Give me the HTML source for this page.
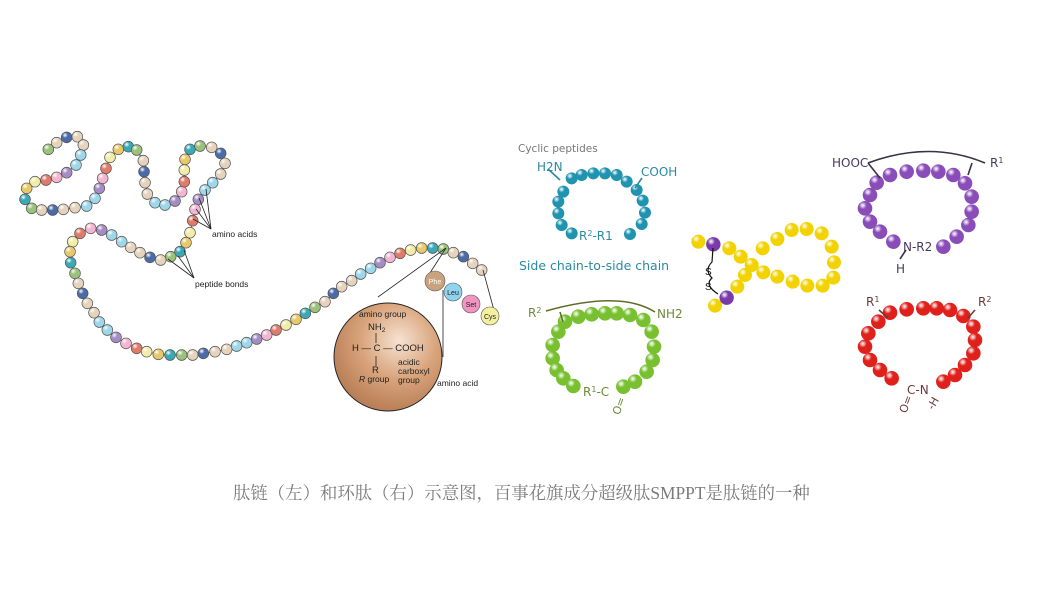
<!DOCTYPE html>
<html><head><meta charset="utf-8"><style>
html,body{margin:0;padding:0;background:#fff;width:1054px;height:591px;overflow:hidden}
svg{position:absolute;left:0;top:0}
.cap{position:absolute;left:233px;top:479px;font-family:"Liberation Serif","Noto Serif CJK SC",serif;font-size:17.4px;color:#7a7a7a;white-space:nowrap}
</style></head><body>
<svg id="s" width="1054" height="591" viewBox="0 0 1054 591" xmlns="http://www.w3.org/2000/svg" font-family="Liberation Sans, sans-serif">
<defs>
<radialGradient id="big" cx="0.6" cy="0.35" r="0.7"><stop offset="0" stop-color="#f6e3d2"/><stop offset="0.5" stop-color="#d9a47c"/><stop offset="1" stop-color="#b57a52"/></radialGradient>
</defs>
<g id="chain"></g>
<g id="rings"></g>
<g stroke="#222" stroke-width="0.8" fill="none">
<line x1="199" y1="198" x2="211" y2="229"/><line x1="206" y1="189" x2="211" y2="229"/><line x1="196" y1="209" x2="211" y2="229"/><line x1="193" y1="219" x2="211" y2="229"/>
<line x1="168" y1="259" x2="194" y2="278"/><line x1="178" y1="256" x2="194" y2="278"/><line x1="184" y1="250" x2="194" y2="278"/>
<line x1="446" y1="248" x2="378" y2="297"/><line x1="446" y1="248" x2="428" y2="276"/>
<line x1="443" y1="290" x2="443" y2="357"/>
<line x1="483" y1="270" x2="495" y2="314"/>
</g>
<circle cx="388" cy="357" r="54" fill="url(#big)" stroke="#222" stroke-width="1"/>
<g font-size="8.5" fill="#222">
<text x="359" y="317">amino group</text>
<text x="368" y="330" font-size="9.5">NH<tspan font-size="6.5" dy="2">2</tspan></text>
<text x="352" y="351" font-size="9.5">H — C — COOH</text>
<text x="372" y="373" font-size="9.5">R</text>
<text x="359" y="382"><tspan font-style="italic">R</tspan> group</text>
<text x="398" y="365">acidic</text><text x="398" y="374">carboxyl</text><text x="398" y="383">group</text>
<text x="437" y="386">amino acid</text>
<text x="212" y="237">amino acids</text>
<text x="195" y="287">peptide bonds</text>
</g>
<line x1="376" y1="333" x2="376" y2="343" stroke="#222" stroke-width="0.8"/>
<line x1="376" y1="356" x2="376" y2="366" stroke="#222" stroke-width="0.8"/>
<g stroke="#555" stroke-width="0.6" font-size="7" text-anchor="middle">
<circle cx="435" cy="281" r="10" fill="#c9a27e"/><text x="435" y="284" fill="#fff" stroke="none">Phe</text>
<circle cx="453" cy="292" r="9" fill="#8fd3ef"/><text x="453" y="295" fill="#222" stroke="none">Leu</text>
<circle cx="471" cy="304" r="9" fill="#f095c0"/><text x="471" y="307" fill="#222" stroke="none">Set</text>
<circle cx="490" cy="316" r="9" fill="#f4f0a0"/><text x="490" y="319" fill="#222" stroke="none">Cys</text>
</g>
<g font-family="DejaVu Sans, sans-serif">
<text x="518" y="152" font-size="10.5" fill="#777">Cyclic peptides</text>
<text x="537" y="171" font-size="12" fill="#2a8aa0">H2N</text>
<text x="641" y="176" font-size="12" fill="#2a8aa0">COOH</text>
<text x="579" y="240" font-size="12" fill="#2a8aa0">R<tspan font-size="8" dy="-4">2</tspan><tspan dy="4">-R1</tspan></text>
<text x="519" y="270" font-size="12.5" fill="#2a8aa0">Side chain-to-side chain</text>
<text x="528" y="317" font-size="12" fill="#6b8a3a">R<tspan font-size="8" dy="-4">2</tspan></text>
<text x="657" y="318" font-size="12" fill="#6b8a3a">NH2</text>
<text x="583" y="396" font-size="12" fill="#6b8a3a">R<tspan font-size="8" dy="-4">1</tspan><tspan dy="4">-C</tspan></text>
<text x="612" y="415" font-size="11" fill="#6b8a3a" transform="rotate(-70 616 410)">O=</text>
<text x="832" y="167" font-size="12" fill="#4a3a5a">HOOC</text>
<text x="990" y="167" font-size="12" fill="#4a3a5a">R<tspan font-size="8" dy="-4">1</tspan></text>
<text x="903" y="251" font-size="12" fill="#4a3a5a">N-R2</text>
<text x="896" y="273" font-size="12" fill="#4a3a5a">H</text>
<text x="866" y="306" font-size="12" fill="#6a3a3a">R<tspan font-size="8" dy="-4">1</tspan></text>
<text x="978" y="306" font-size="12" fill="#6a3a3a">R<tspan font-size="8" dy="-4">2</tspan></text>
<text x="907" y="394" font-size="12" fill="#6a3a3a">C-N</text>
<text x="898" y="414" font-size="11" fill="#6a3a3a" transform="rotate(-70 902 408)">O=</text>
<text x="926" y="410" font-size="11" fill="#6a3a3a" transform="rotate(-60 930 404)">-H</text>
</g>
<g fill="none" stroke-width="1.6">
<path d="M548 169 L560 180" stroke="#2a8aa0"/><path d="M642 178 L635 188" stroke="#2a8aa0"/>
<path d="M546 311 Q620 290 655 312" stroke="#5f6e2a"/><path d="M560 312 L563 322" stroke="#5f6e2a"/>
<path d="M868 163 Q930 140 985 163" stroke="#3a3048"/><path d="M868 163 L880 178" stroke="#3a3048"/><path d="M972 163 L968 175" stroke="#3a3048"/>
<path d="M879 310 L888 318" stroke="#6a3a3a"/><path d="M975 310 L968 318" stroke="#6a3a3a"/>
<path d="M900 259 L906 250" stroke="#3a3048"/>
<path d="M713 248 L712 262 Q704 270 712 278 Q704 285 718 294" stroke="#111" stroke-width="1.2"/>
</g>
<text x="705" y="275" font-size="10" fill="#111" font-family="Liberation Sans,sans-serif">S</text>
<text x="705" y="290" font-size="10" fill="#111" font-family="Liberation Sans,sans-serif">S</text>
</svg>
<div class="cap">肽链（左）和环肽（右）示意图，百事花旗成分超级肽SMPPT是肽链的一种</div>
<script>
var NS="http://www.w3.org/2000/svg",svg=document.getElementById('s'),defs=svg.querySelector('defs');
var gid=0;function grad(c){var id='g'+(gid++);var g=document.createElementNS(NS,'radialGradient');g.setAttribute('id',id);g.setAttribute('cx','0.35');g.setAttribute('cy','0.3');g.setAttribute('r','0.75');
g.innerHTML='<stop offset="0" stop-color="#fff" stop-opacity="0.9"/><stop offset="0.35" stop-color="'+c+'"/><stop offset="1" stop-color="'+c+'"/>';defs.appendChild(g);return id;}
var cache={};function fillFor(c){if(!cache[c])cache[c]=grad(c);return 'url(#'+cache[c]+')';}
function circ(p,x,y,r,c,st){var e=document.createElementNS(NS,'circle');e.setAttribute('cx',x);e.setAttribute('cy',y);e.setAttribute('r',r);e.setAttribute('fill',fillFor(c));if(st){e.setAttribute('stroke',st);e.setAttribute('stroke-width','0.7');}p.appendChild(e);}
var z=[145,88,170,68,200,52,232,50,250,75,242,105,228,135,200,158,170,172,138,180,105,185,80,205,75,238,95,265,125,270,158,270,190,268,225,263,260,258,285,235,298,205,308,175,318,145,330,112,355,88,385,80,410,90,430,122,432,155,435,188,442,222,465,248,495,255,525,243,545,215,553,185,553,150,555,118,570,88,600,78,635,82,662,100,675,130,662,162,638,188,615,210,595,238,585,268,578,302,570,338,558,368,540,395,512,410,482,420,450,412,420,398,392,382,365,365,335,345,305,330,272,325,240,340,218,365,210,395,212,428,225,460,235,490,248,520,262,550,282,578,298,606,322,630,348,652,378,670,410,685,440,695,475,703,510,705,545,705,578,705,610,700,645,695,680,688,710,678,740,668,770,657,800,645,828,630,858,615,888,598,916,580,945,562,975,545,1000,520,1025,500,1055,482,1082,462,1112,445,1140,428,1170,412,1200,400,1232,390,1265,384,1298,384,1330,387,1360,398,1390,410,1418,430,1445,450];
var pal=['#a58cc4','#e07a6a','#e8c96a','#9bc27a','#4a6aa8','#e5d3bd','#9fd7ea','#f2b6d0','#f3eca8','#3aa9b5','#e5d3bd','#e5d3bd','#9fd7ea'];
var ch=document.getElementById('chain');var pts='';
for(var i=0;i<z.length;i+=2){pts+=(z[i]/3)+','+(z[i+1]/3+120)+' ';}
var pl=document.createElementNS(NS,'polyline');pl.setAttribute('points',pts);pl.setAttribute('fill','none');pl.setAttribute('stroke','#333');pl.setAttribute('stroke-width','0.8');ch.appendChild(pl);
for(var i=0,k=0;i<z.length;i+=2,k++){circ(ch,z[i]/3,z[i+1]/3+120,5.4,pal[(k*7+3)%pal.length],'#555');}
var rg=document.getElementById('rings');
function ring(arr,ox,oy,r,c){for(var i=0;i<arr.length;i+=2)circ(rg,arr[i]/3+ox,arr[i+1]/3+oy,r,c);}
ring([185,145,215,135,250,130,285,130,320,135,350,155,380,180,398,212,405,248,395,282,360,312,160,185,145,215,145,250,155,285,185,310],510,130,6,'#1f93b0');
ring([1100,158,1140,135,1190,125,1240,122,1285,125,1330,135,1365,160,1385,200,1385,245,1375,285,1340,320,1300,350,1080,195,1065,235,1080,275,1110,305,1150,335],510,130,7.3,'#8a4cb8');
ring([1140,548,1190,538,1240,535,1280,535,1320,540,1360,558,1390,590,1395,630,1390,670,1365,705,1335,735,1300,755,1105,575,1075,610,1065,650,1080,690,1110,720,1145,745],510,130,7.3,'#e0201a');
ring([165,575,205,560,245,553,285,550,320,550,360,555,400,570,425,605,432,650,428,690,410,725,375,755,340,770,145,605,128,645,128,685,140,720,160,745,190,768],510,130,7.3,'#78c030');
var y=[55,80,148,100,182,125,215,150,250,172,292,185,338,200,382,212,428,212,460,188,462,142,455,95,425,55,380,42,335,45,292,72,248,100,195,180,172,215,105,272];
ring(y,680,215,7,'#f2d200');
circ(rg,100/3+680,88/3+215,7.2,'#7a3aa8');circ(rg,140/3+680,248/3+215,7.2,'#7a3aa8');
</script>
</body></html>
